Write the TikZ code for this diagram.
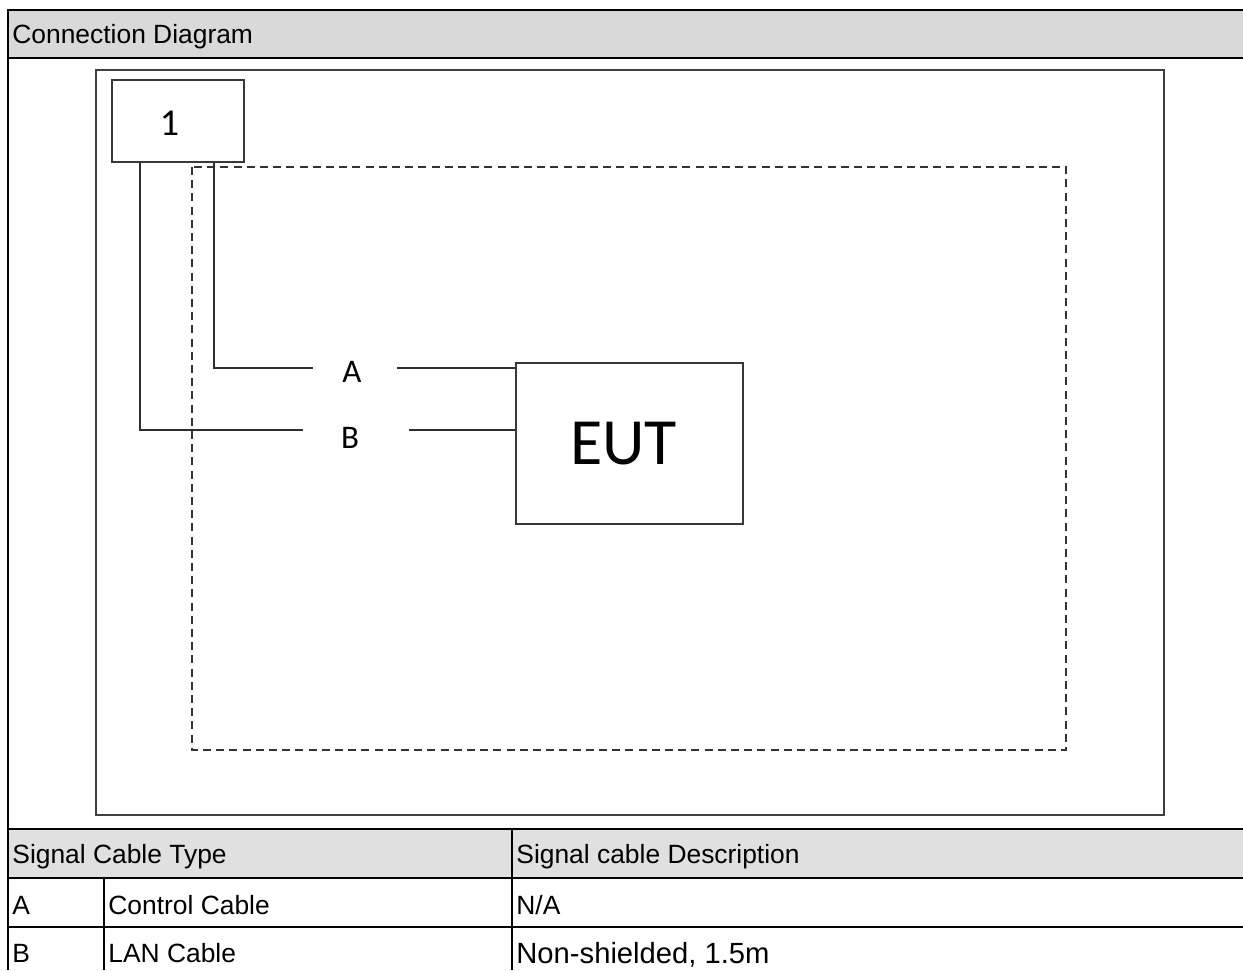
\documentclass[tikz,border=0pt]{standalone}
\usepackage{fontspec}
\setmainfont{Liberation Sans}
\newfontfamily\calfont{Carlito}
\usetikzlibrary{positioning}

\tikzset{
	grid/.style={line width=1pt, color=black},
	unit/.style={draw=black!78, line width=0.75pt, inner sep=0pt},
	cable/.style={color=black!82, line width=0.75pt},
	fence/.style={color=black!80, line width=0.7pt, dash pattern=on 4pt off 2.6pt},
	celltext/.style={anchor=base west, inner sep=0pt, font=\fontsize{13.2}{15}\selectfont},
	cablelab/.style={inner sep=0pt, font=\calfont\fontsize{16.5}{18}\selectfont}
}

\begin{document}
\begin{tikzpicture}[x=0.5pt, y=-0.5pt]
	\useasboundingbox (0,0) rectangle (1243,970);
	% table: grey title rows
	\fill[color=black!15] (8,10) rectangle (1243,58);
	\fill[color=black!12] (8,829) rectangle (1243,878);
	\draw[grid] (1243,10) -- (8,10) -- (8,970);
	\draw[grid] (8,58) -- (1243,58);
	\draw[grid] (8,829) -- (1243,829);
	\draw[grid] (8,878) -- (1243,878);
	\draw[grid] (8,927) -- (1243,927);
	\draw[grid] (512,829) -- (512,970);
	\draw[grid] (104,878) -- (104,970);
	\node[celltext] (title) at (12,43) {Connection Diagram};
	\node[celltext] (typehead) at (12,863) {Signal Cable Type};
	\node[celltext] (deschead) at (516,863) {Signal cable Description};
	\node[celltext] (rowA) at (12,914) {A};
	\node[celltext] (typeA) at (108,914) {Control Cable};
	\node[celltext] (descA) at (516,914) {N/A};
	\node[celltext] (rowB) at (12,962) {B};
	\node[celltext] (typeB) at (108,962) {LAN Cable};
	\node[celltext, font=\fontsize{14.6}{16}\selectfont] (descB) at (516,963) {Non-shielded, 1.5m};

	% the set-up: room, table and units
	\draw[color=black!75, line width=0.8pt] (96,70) rectangle (1164,815);
	\draw[fence] (192,167) rectangle (1066,750);
	\node[unit, minimum width=66pt, minimum height=41pt] (aux) at (178,121) {};
	\node[font=\calfont\fontsize{19}{20}\selectfont, inner sep=0pt] (auxno) at (169.5,123) {1};
	\node[unit, minimum width=113.5pt, minimum height=80.5pt, font=\calfont\fontsize{33}{36}\selectfont] (eut) at (629.5,443.5) {\hspace*{-6pt}EUT};
	\node[cablelab] (labA) at (352,372) {A};
	\node[cablelab] (labB) at (350,438) {B};

	% cables
	\coordinate (jA) at (214,368);
	\coordinate (jB) at (140,430);
	\draw[cable] (aux.south -| jA) |- ([xshift=-14.5pt]labA.west |- jA);
	\draw[cable] ([xshift=17.5pt]labA.east |- jA) -- (eut.west |- jA);
	\draw[cable] (aux.south -| jB) |- ([xshift=-19pt]labB.west |- jB);
	\draw[cable] ([xshift=25pt]labB.east |- jB) -- (eut.west |- jB);
\end{tikzpicture}
\end{document}
